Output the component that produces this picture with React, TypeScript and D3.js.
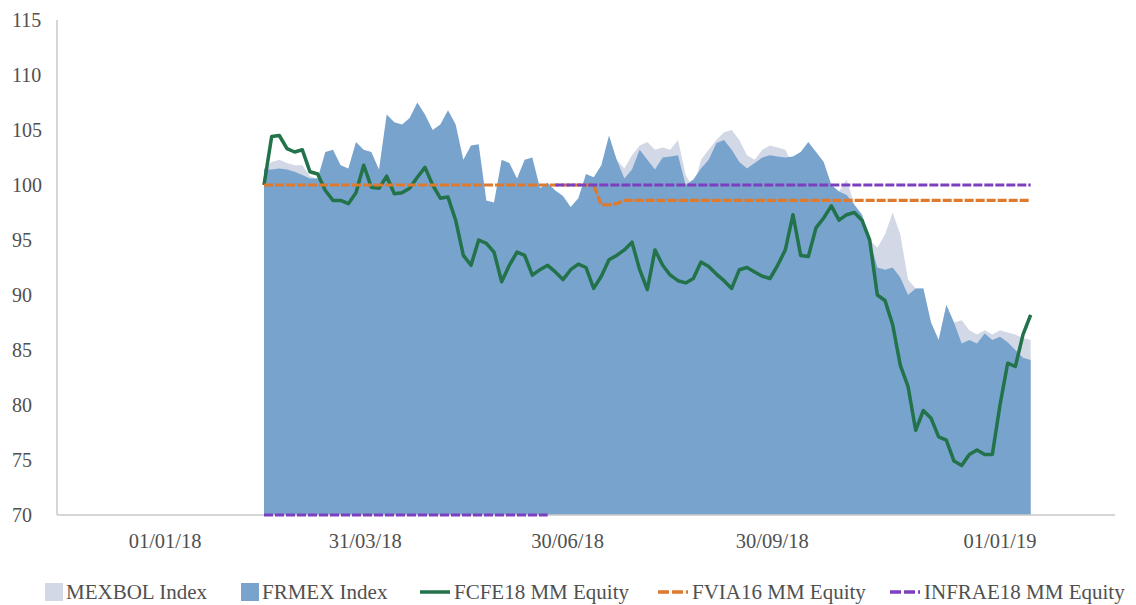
import React from "react"
import * as d3 from "d3"

const width = 1136
const height = 605
const margin = {top: 20, right: 21, bottom: 90, left: 57}

// x axis works like a category axis: the series fill slots 27..127 of 0..138
const axisSlots = [0, 138]
const firstSlot = 27
const tickSlots = [14.1, 40.2, 66.6, 93.3, 123.0]
const tickLabels = ["01/01/18", "31/03/18", "30/06/18", "30/09/18", "01/01/19"]
const yTicks = [70, 75, 80, 85, 90, 95, 100, 105, 110, 115]

const mexbol = [
  101.5, 102.1, 102.3, 102.0, 101.8, 101.8, 100.8, 100.6, 102.7, 102.9,
  101.5, 101.2, 103.5, 102.9, 102.7, 101.1, 106.0, 105.4, 105.2, 105.8,
  107.1, 106.0, 104.7, 105.2, 106.4, 105.2, 102.0, 103.3, 103.4, 98.3,
  98.1, 102.0, 101.7, 100.3, 102.0, 102.2, 99.4, 99.9, 99.2, 98.7,
  97.7, 98.5, 100.7, 100.4, 101.5, 104.2, 102.3, 101.5, 102.7, 103.6,
  103.9, 103.2, 103.4, 103.2, 104.1, 100.9, 99.7, 102.3, 103.2, 104.1,
  104.8, 105.0, 104.1, 102.7, 102.3, 103.2, 103.6, 103.4, 103.2, 101.8,
  102.3, 103.6, 103.0, 102.1, 100.0, 99.4, 100.5, 98.2, 97.3, 95.0,
  94.3, 95.5, 97.5, 95.5, 91.4, 90.6, 90.6, 87.5, 85.9, 89.1,
  87.5, 87.7, 86.8, 86.4, 86.8, 86.4, 86.8, 86.6, 86.4, 86.1,
  85.9
]

const frmex = [
  101.4, 101.4, 101.5, 101.4, 101.2, 100.9, 100.6, 100.6, 103.0, 103.2,
  101.8, 101.5, 103.9, 103.2, 103.0, 101.4, 106.4, 105.7, 105.5, 106.1,
  107.5, 106.4, 105.0, 105.5, 106.8, 105.5, 102.3, 103.6, 103.7, 98.6,
  98.4, 102.3, 102.0, 100.6, 102.3, 102.5, 99.7, 100.2, 99.5, 99.0,
  98.0, 98.8, 101.0, 100.7, 101.8, 104.5, 102.3, 100.6, 101.4, 103.2,
  102.3, 101.4, 102.5, 102.6, 102.7, 100.0, 100.5, 101.5, 102.3, 103.8,
  104.1, 103.2, 102.1, 101.5, 102.0, 102.5, 102.7, 102.6, 102.5, 102.6,
  103.0, 103.9, 103.0, 102.1, 100.0, 99.4, 99.1, 98.2, 97.3, 95.0,
  92.5, 92.3, 92.5, 91.6, 90.0, 90.6, 90.6, 87.5, 85.9, 89.1,
  87.5, 85.6, 85.9, 85.6, 86.5, 85.9, 86.2, 85.7, 85.0, 84.3,
  84.1
]

const fcfe18 = [
  100.0, 104.4, 104.5, 103.3, 103.0, 103.2, 101.2, 101.0, 99.5, 98.6,
  98.6, 98.3, 99.3, 101.8, 99.8, 99.7, 100.8, 99.2, 99.3, 99.7,
  100.7, 101.6, 100.0, 98.8, 98.9, 96.8, 93.6, 92.7, 95.0, 94.7,
  93.9, 91.2, 92.7, 93.9, 93.6, 91.8, 92.3, 92.7, 92.1, 91.4,
  92.3, 92.8, 92.5, 90.6, 91.7, 93.2, 93.6, 94.1, 94.8, 92.3,
  90.5, 94.1, 92.7, 91.8, 91.3, 91.1, 91.5, 93.0, 92.6, 91.9,
  91.3, 90.6, 92.3, 92.5, 92.1, 91.7, 91.5, 92.7, 94.1, 97.3,
  93.6, 93.5, 96.1, 97.0, 98.1, 96.8, 97.3, 97.5, 96.8, 95.0,
  90.0, 89.5, 87.3, 83.6, 81.7, 77.7, 79.5, 78.8, 77.1, 76.8,
  74.9, 74.5, 75.5, 75.9, 75.5, 75.5, 80.0, 83.8, 83.5, 86.4,
  88.2
]

const fvia16 = [
  100, 100, 100, 100, 100, 100, 100, 100, 100, 100,
  100, 100, 100, 100, 100, 100, 100, 100, 100, 100,
  100, 100, 100, 100, 100, 100, 100, 100, 100, 100,
  100, 100, 100, 100, 100, 100, 100, 100, 100, 100,
  100, 100, 100, 100, 98.2, 98.2, 98.3, 98.6, 98.6, 98.6,
  98.6, 98.6, 98.6, 98.6, 98.6, 98.6, 98.6, 98.6, 98.6, 98.6,
  98.6, 98.6, 98.6, 98.6, 98.6, 98.6, 98.6, 98.6, 98.6, 98.6,
  98.6, 98.6, 98.6, 98.6, 98.6, 98.6, 98.6, 98.6, 98.6, 98.6,
  98.6, 98.6, 98.6, 98.6, 98.6, 98.6, 98.6, 98.6, 98.6, 98.6,
  98.6, 98.6, 98.6, 98.6, 98.6, 98.6, 98.6, 98.6, 98.6, 98.6,
  98.6
]

// zero before listing: Excel clips it to the bottom of the axis
const infrae18 = [
  0, 0, 0, 0, 0, 0, 0, 0, 0, 0,
  0, 0, 0, 0, 0, 0, 0, 0, 0, 0,
  0, 0, 0, 0, 0, 0, 0, 0, 0, 0,
  0, 0, 0, 0, 0, 0, 0, 0, 100, 100,
  100, 100, 100, 100, 100, 100, 100, 100, 100, 100,
  100, 100, 100, 100, 100, 100, 100, 100, 100, 100,
  100, 100, 100, 100, 100, 100, 100, 100, 100, 100,
  100, 100, 100, 100, 100, 100, 100, 100, 100, 100,
  100, 100, 100, 100, 100, 100, 100, 100, 100, 100,
  100, 100, 100, 100, 100, 100, 100, 100, 100, 100,
  100
]

const colors = {
  mexbol: "#D2D8E6",
  frmex: "#78A3CD",
  fcfe18: "#22724A",
  fvia16: "#DD7A2E",
  infrae18: "#7C3FC0",
  text: "#505050",
  axis: "#C8C8C8",
}

const font = "'Liberation Serif', 'Times New Roman', serif"

export default function App() {
  const x = d3.scaleLinear().domain(axisSlots).range([margin.left, width - margin.right])
  const y = d3.scaleLinear().domain([70, 115]).range([height - margin.bottom, margin.top])
  const yc = y.copy().clamp(true)

  const xi = (_d: number, i: number) => x(firstSlot + i)

  const area = d3.area<number>().x(xi).y0(y(70)).y1(d => y(d))
  const line = d3.line<number>().x(xi).y(d => y(d))
  const lowLine = d3.line<number>().x(xi).y(d => yc(d)).defined(d => d < 70)
  const highLine = d3.line<number>().x(xi).y(d => yc(d)).defined(d => d >= 70)

  const legendY = 592
  const legend = [
    {kind: "box", color: colors.mexbol, x: 45, label: "MEXBOL Index"},
    {kind: "box", color: colors.frmex, x: 241, label: "FRMEX Index"},
    {kind: "line", color: colors.fcfe18, x: 420, label: "FCFE18 MM Equity"},
    {kind: "dash", color: colors.fvia16, x: 658, label: "FVIA16 MM Equity"},
    {kind: "dash", color: colors.infrae18, x: 890, label: "INFRAE18 MM Equity"},
  ]

  return (
    <div style={{position: "absolute", left: 0, top: 0}}>
      <svg width={width} height={height} style={{display: "block", background: "#fff"}}>
        {/* areas */}
        <path d={area(mexbol) ?? ""} fill={colors.mexbol} />
        <path d={area(frmex) ?? ""} fill={colors.frmex} />

        {/* axes */}
        <line x1={x(axisSlots[0])} x2={x(axisSlots[0])} y1={y(115)} y2={y(70)} stroke={colors.axis} strokeWidth={1.5} />
        <line x1={x(axisSlots[0])} x2={x(axisSlots[1])} y1={y(70)} y2={y(70)} stroke={colors.axis} strokeWidth={1.5} />

        {/* lines */}
        <path d={line(fcfe18) ?? ""} fill="none" stroke={colors.fcfe18} strokeWidth={3.5} strokeLinejoin="round" />
        <path d={line(fvia16) ?? ""} fill="none" stroke={colors.fvia16} strokeWidth={3.2} strokeDasharray="9 2" />
        <path d={lowLine(infrae18) ?? ""} fill="none" stroke={colors.infrae18} strokeWidth={3.2} strokeDasharray="9 2" />
        <path d={highLine(infrae18) ?? ""} fill="none" stroke={colors.infrae18} strokeWidth={3.2} strokeDasharray="9 2" />

        {/* y tick labels */}
        {yTicks.map(t => (
          <text key={t} x={12} y={y(t)} dy="0.35em" fontFamily={font} fontSize={20} fill={colors.text}>
            {t}
          </text>
        ))}

        {/* x tick labels */}
        {tickSlots.map((s, i) => (
          <text key={s} x={x(s)} y={548} textAnchor="middle" fontFamily={font} fontSize={20.5} fill={colors.text}>
            {tickLabels[i]}
          </text>
        ))}

        {/* legend */}
        {legend.map(item => (
          <g key={item.label}>
            {item.kind === "box" && (
              <rect x={item.x} y={legendY - 9} width={18} height={18} fill={item.color} />
            )}
            {item.kind === "line" && (
              <line x1={item.x} x2={item.x + 30} y1={legendY} y2={legendY} stroke={item.color} strokeWidth={3.5} />
            )}
            {item.kind === "dash" && (
              <line x1={item.x} x2={item.x + 30} y1={legendY} y2={legendY} stroke={item.color} strokeWidth={3.5} strokeDasharray="11 3" />
            )}
            <text
              x={item.x + (item.kind === "box" ? 21 : 34)}
              y={legendY + 7}
              fontFamily={font}
              fontSize={21}
              fill={colors.text}
            >
              {item.label}
            </text>
          </g>
        ))}
      </svg>
    </div>
  )
}
